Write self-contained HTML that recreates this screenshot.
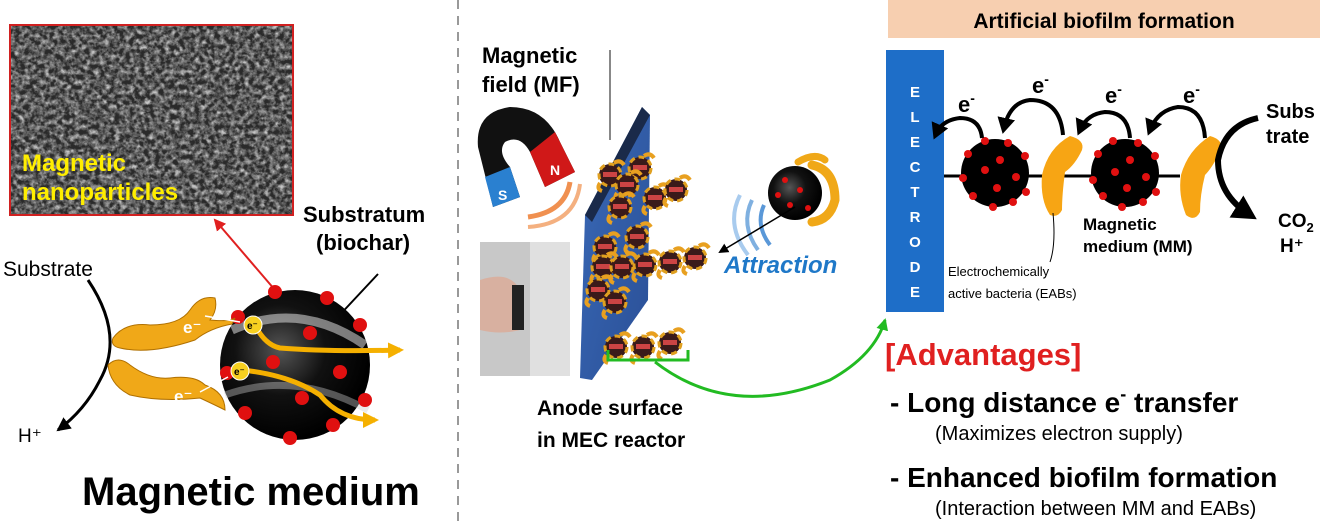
<!DOCTYPE html>
<html><head><meta charset="utf-8"><style>
html,body{margin:0;padding:0;background:#fff;}
svg{display:block;font-family:"Liberation Sans","DejaVu Sans",sans-serif;}
</style></head><body>
<svg width="1328" height="522" viewBox="0 0 1328 522" xmlns="http://www.w3.org/2000/svg">
<defs>
<filter id="noise" x="0" y="0" width="1" height="1"><feTurbulence type="fractalNoise" baseFrequency="0.2" numOctaves="3" seed="4"/><feColorMatrix type="matrix" values="0 0 0 0 0.55  0 0 0 0 0.55  0 0 0 0 0.55  1.1 1.1 1.1 0 -1.35"/></filter>
<clipPath id="semclip"><rect x="10" y="25" width="283" height="190"/></clipPath>
<radialGradient id="sph" cx="0.4" cy="0.4" r="0.6"><stop offset="0" stop-color="#555"/><stop offset="0.5" stop-color="#111"/><stop offset="1" stop-color="#000"/></radialGradient>
<linearGradient id="plate" x1="0" y1="0" x2="1" y2="1"><stop offset="0" stop-color="#3a6ab8"/><stop offset="1" stop-color="#2a4f96"/></linearGradient>
<marker id="ah" markerUnits="userSpaceOnUse" markerWidth="16" markerHeight="16" refX="12" refY="8" orient="auto"><path d="M0,1 L14,8 L0,15z" fill="#000"/></marker>
<marker id="ahs" markerUnits="userSpaceOnUse" markerWidth="10" markerHeight="10" refX="8" refY="5" orient="auto"><path d="M0,0 L10,5 L0,10z" fill="#000"/></marker>
<marker id="ahm" markerUnits="userSpaceOnUse" markerWidth="18" markerHeight="18" refX="10" refY="9" orient="auto"><path d="M0,0 L16,9 L0,18z" fill="#000"/></marker>
<marker id="ahb" markerUnits="userSpaceOnUse" markerWidth="26" markerHeight="26" refX="16" refY="13" orient="auto"><path d="M0,0 L24,13 L0,26z" fill="#000"/></marker>
<marker id="ahr" markerUnits="userSpaceOnUse" markerWidth="14" markerHeight="14" refX="10" refY="7" orient="auto"><path d="M0,1 L12,7 L0,13z" fill="#e02020"/></marker>
<marker id="ahg" markerUnits="userSpaceOnUse" markerWidth="14" markerHeight="14" refX="10" refY="7" orient="auto"><path d="M0,1 L12,7 L0,13z" fill="#22bb22"/></marker>
<marker id="ahy" markerUnits="userSpaceOnUse" markerWidth="18" markerHeight="18" refX="12" refY="9" orient="auto"><path d="M0,1 L16,9 L0,17z" fill="#f5b000"/></marker>
<g id="ball"><circle r="11" fill="#3a1a1a"/><circle r="11" fill="none" stroke="#e0a020" stroke-width="3" stroke-dasharray="6 4"/><rect x="-7" y="-3" width="14" height="5" fill="#c44"/><path d="M4,-12 q6,-4 10,2 M-10,8 q-4,6 2,8" stroke="#e8a020" stroke-width="4" fill="none"/></g>
</defs>

<!-- SEM image -->
<rect x="10" y="25" width="283" height="190" fill="#2a2a2a"/>
<g clip-path="url(#semclip)"><rect x="10" y="25" width="283" height="190" filter="url(#noise)"/></g>
<rect x="10" y="25" width="283" height="190" fill="none" stroke="#d02020" stroke-width="2"/>
<text x="22" y="171" font-size="24" font-weight="bold" fill="#ffee00">Magnetic</text>
<text x="22" y="200" font-size="24" font-weight="bold" fill="#ffee00">nanoparticles</text>
<line x1="275" y1="290" x2="215" y2="220" stroke="#e02020" stroke-width="2" marker-end="url(#ahr)"/>
<text x="303" y="222" font-size="22" font-weight="bold">Substratum</text>
<text x="316" y="250" font-size="22" font-weight="bold">(biochar)</text>
<line x1="378" y1="274" x2="335" y2="320" stroke="#000" stroke-width="2"/>
<text x="3" y="276" font-size="21">Substrate</text>
<path d="M88,280 Q125,335 100,380 Q85,410 58,430" stroke="#000" stroke-width="3" fill="none" marker-end="url(#ah)"/>
<text x="18" y="442" font-size="19">H⁺</text>
<circle cx="295" cy="365" r="75" fill="url(#sph)"/>
<path d="M232,330 Q300,300 365,345" stroke="#ddd" stroke-width="9" fill="none" opacity="0.55"/>
<path d="M225,395 Q295,370 368,410" stroke="#ccc" stroke-width="7" fill="none" opacity="0.4"/>
<g fill="#e01010">
<circle cx="275" cy="292" r="7"/><circle cx="327" cy="298" r="7"/><circle cx="360" cy="325" r="7"/><circle cx="310" cy="333" r="7"/><circle cx="238" cy="317" r="7"/><circle cx="273" cy="362" r="7"/><circle cx="340" cy="372" r="7"/><circle cx="365" cy="400" r="7"/><circle cx="302" cy="398" r="7"/><circle cx="245" cy="413" r="7"/><circle cx="333" cy="425" r="7"/><circle cx="290" cy="438" r="7"/><circle cx="227" cy="373" r="7"/>
</g>
<path d="M255,325 Q265,345 280,348 Q330,352 400,350" stroke="#f5b000" stroke-width="5" fill="none" marker-end="url(#ahy)"/>
<path d="M242,370 Q290,375 320,395 Q340,420 375,420" stroke="#f5b000" stroke-width="5" fill="none" marker-end="url(#ahy)"/>
<circle cx="253" cy="325" r="9" fill="#f7d020" stroke="#fff"/><text x="247" y="329" font-size="10" font-weight="bold">e⁻</text>
<circle cx="240" cy="371" r="9" fill="#f7d020" stroke="#fff"/><text x="234" y="375" font-size="10" font-weight="bold">e⁻</text>
<path d="M113,338 Q125,322 150,325 Q180,325 190,310 Q200,295 215,298 Q218,310 210,320 Q230,322 235,318 L232,324 Q210,328 195,340 Q150,355 120,348 Q110,346 113,338z" fill="#f0a818" stroke="#b07000"/>
<path d="M108,365 Q118,355 130,365 Q150,380 170,378 Q195,375 205,385 Q225,392 225,410 Q215,405 200,398 Q160,402 130,395 Q110,385 108,365z" fill="#f0a818" stroke="#b07000"/>
<text x="183" y="333" font-size="17" font-weight="bold" fill="#fff">e⁻</text>
<text x="174" y="402" font-size="17" font-weight="bold" fill="#fff">e⁻</text>
<line x1="205" y1="316" x2="240" y2="322" stroke="#fff" stroke-width="1.5"/>
<line x1="200" y1="392" x2="228" y2="377" stroke="#fff" stroke-width="1.5"/>
<text x="82" y="505" font-size="40" font-weight="bold">Magnetic medium</text>

<line x1="458" y1="0" x2="458" y2="522" stroke="#999" stroke-width="2" stroke-dasharray="9 7"/>

<text x="482" y="63" font-size="22" font-weight="bold">Magnetic</text>
<text x="482" y="92" font-size="22" font-weight="bold">field (MF)</text>
<line x1="610" y1="50" x2="610" y2="140" stroke="#888" stroke-width="2"/>
<g transform="translate(0,12)">
<path d="M478,135 Q475,100 510,95 Q545,95 560,130 L575,160 L545,175 L530,140 Q520,122 505,130 Q497,140 510,155 L520,185 L493,195 Z" fill="#111"/>
<path d="M545,175 L575,160 L555,120 L530,140z" fill="#d01818"/>
<path d="M493,195 L520,185 L510,155 L485,165z" fill="#2a80d0"/>
<text x="550" y="163" font-size="14" font-weight="bold" fill="#fff">N</text>
<text x="498" y="188" font-size="14" font-weight="bold" fill="#fff">S</text>
<path d="M528,205 Q565,200 570,170" stroke="#f09050" stroke-width="5" fill="none"/>
<path d="M528,215 Q575,212 580,172" stroke="#f4b080" stroke-width="4" fill="none"/>
</g>
<rect x="480" y="242" width="90" height="134" fill="#c8c8c8"/>
<rect x="530" y="242" width="40" height="134" fill="#e0e0e0"/>
<path d="M480,280 Q510,270 520,290 L520,330 Q500,335 480,330z" fill="#d8b0a0"/>
<rect x="512" y="285" width="12" height="45" fill="#222"/>
<path d="M585,215 L642,107 L650,115 L648,300 L592,380 L580,378z" fill="url(#plate)"/>
<path d="M585,215 L642,107 L650,115 L592,222z" fill="#1a2a4a"/>
<g>
<use href="#ball" x="610" y="175"/><use href="#ball" x="640" y="168"/><use href="#ball" x="627" y="185"/><use href="#ball" x="620" y="207"/><use href="#ball" x="655" y="198"/><use href="#ball" x="676" y="190"/><use href="#ball" x="637" y="237"/><use href="#ball" x="605" y="247"/><use href="#ball" x="603" y="267"/><use href="#ball" x="622" y="267"/><use href="#ball" x="645" y="265"/><use href="#ball" x="670" y="262"/><use href="#ball" x="695" y="258"/><use href="#ball" x="598" y="290"/><use href="#ball" x="615" y="302"/><use href="#ball" x="616" y="347"/><use href="#ball" x="643" y="347"/><use href="#ball" x="670" y="343"/>
</g>
<path d="M608,350 L608,360 L688,360 L688,350" stroke="#22bb22" stroke-width="3" fill="none"/>
<path d="M655,362 Q730,420 830,380 Q875,355 885,320" stroke="#22bb22" stroke-width="3" fill="none" marker-end="url(#ahg)"/>
<text x="537" y="415" font-size="21" font-weight="bold">Anode surface</text>
<text x="537" y="447" font-size="21" font-weight="bold">in MEC reactor</text>
<path d="M740,195 Q725,225 748,255" stroke="#a8cbee" stroke-width="4" fill="none"/>
<path d="M752,200 Q740,225 758,250" stroke="#7fb0e0" stroke-width="4" fill="none"/>
<path d="M764,205 Q755,225 770,245" stroke="#5a98d8" stroke-width="4" fill="none"/>
<circle cx="795" cy="193" r="27" fill="url(#sph)"/>
<g fill="#e01010"><circle cx="785" cy="180" r="3"/><circle cx="800" cy="190" r="3"/><circle cx="790" cy="205" r="3"/><circle cx="808" cy="208" r="3"/><circle cx="778" cy="195" r="3"/></g>
<path d="M812,165 Q835,170 835,200 Q830,220 812,222" stroke="#f0a818" stroke-width="9" fill="none" stroke-linecap="round"/>
<path d="M798,162 Q815,152 825,160" stroke="#f0a818" stroke-width="7" fill="none" stroke-linecap="round"/>
<line x1="795" y1="207" x2="720" y2="252" stroke="#000" stroke-width="1.5" marker-end="url(#ahs)"/>
<text x="724" y="273" font-size="24" font-weight="bold" font-style="italic" fill="#1f78c8">Attraction</text>

<rect x="888" y="0" width="432" height="38" fill="#f7cfb0"/>
<text x="1104" y="28" font-size="21" font-weight="bold" text-anchor="middle">Artificial biofilm formation</text>
<rect x="886" y="50" width="58" height="262" fill="#1e6ec8"/>
<g font-size="15" font-weight="bold" fill="#fff" text-anchor="middle">
<text x="915" y="97">E</text><text x="915" y="122">L</text><text x="915" y="147">E</text><text x="915" y="172">C</text><text x="915" y="197">T</text><text x="915" y="222">R</text><text x="915" y="247">O</text><text x="915" y="272">D</text><text x="915" y="297">E</text>
</g>
<line x1="944" y1="176" x2="1180" y2="176" stroke="#000" stroke-width="3"/>
<circle cx="995" cy="173" r="34" fill="#000"/>
<circle cx="1125" cy="173" r="34" fill="#000"/>
<g fill="#e01010">
<circle cx="985" cy="141" r="4"/><circle cx="1008" cy="143" r="4"/><circle cx="968" cy="154" r="4"/><circle cx="1025" cy="156" r="4"/><circle cx="1000" cy="160" r="4"/><circle cx="985" cy="170" r="4"/><circle cx="1016" cy="177" r="4"/><circle cx="963" cy="178" r="4"/><circle cx="997" cy="188" r="4"/><circle cx="1026" cy="192" r="4"/><circle cx="973" cy="196" r="4"/><circle cx="993" cy="207" r="4"/><circle cx="1013" cy="202" r="4"/>
<circle cx="1113" cy="141" r="4"/><circle cx="1138" cy="143" r="4"/><circle cx="1098" cy="154" r="4"/><circle cx="1155" cy="156" r="4"/><circle cx="1130" cy="160" r="4"/><circle cx="1115" cy="172" r="4"/><circle cx="1146" cy="177" r="4"/><circle cx="1093" cy="180" r="4"/><circle cx="1127" cy="188" r="4"/><circle cx="1156" cy="192" r="4"/><circle cx="1103" cy="196" r="4"/><circle cx="1122" cy="207" r="4"/><circle cx="1143" cy="202" r="4"/>
</g>
<path d="M1070,136 Q1085,140 1082,150 Q1075,165 1065,172 Q1062,195 1062,210 Q1058,218 1050,215 Q1040,200 1042,175 Q1048,148 1070,136z" fill="#f7a514"/>
<path d="M1210,136 Q1225,140 1220,152 Q1212,168 1205,175 Q1200,195 1200,212 Q1195,222 1186,215 Q1178,195 1181,175 Q1188,150 1210,136z" fill="#f7a514"/>
<g stroke="#000" stroke-width="4" fill="none">
<path d="M982,138 Q980,118 960,118 Q942,120 936,134" marker-end="url(#ahm)"/>
<path d="M1063,135 Q1060,100 1030,100 Q1010,102 1004,128" marker-end="url(#ahm)"/>
<path d="M1130,138 Q1128,112 1105,112 Q1087,114 1080,130" marker-end="url(#ahm)"/>
<path d="M1205,138 Q1203,107 1178,107 Q1158,110 1150,130" marker-end="url(#ahm)"/>
</g>
<path d="M1258,118 Q1225,125 1218,160 Q1218,195 1250,215" stroke="#000" stroke-width="6" fill="none" marker-end="url(#ahb)"/>
<g font-size="22" font-weight="bold"><text x="958" y="112">e<tspan font-size="14" dy="-9">-</tspan></text><text x="1032" y="93">e<tspan font-size="14" dy="-9">-</tspan></text><text x="1105" y="103">e<tspan font-size="14" dy="-9">-</tspan></text><text x="1183" y="103">e<tspan font-size="14" dy="-9">-</tspan></text></g>
<text x="1266" y="118" font-size="20" font-weight="bold">Subs</text>
<text x="1266" y="143" font-size="20" font-weight="bold">trate</text>
<text x="1278" y="227" font-size="19" font-weight="bold">CO<tspan font-size="13" dy="5">2</tspan></text>
<text x="1280" y="252" font-size="19" font-weight="bold">H⁺</text>
<text x="1083" y="230" font-size="17" font-weight="bold">Magnetic</text>
<text x="1083" y="252" font-size="17" font-weight="bold">medium (MM)</text>
<path d="M1053,213 Q1056,245 1050,262" stroke="#000" stroke-width="1" fill="none"/>
<text x="948" y="276" font-size="13">Electrochemically</text>
<text x="948" y="298" font-size="13">active bacteria (EABs)</text>
<text x="885" y="365" font-size="31" font-weight="bold" fill="#e02020">[Advantages]</text>
<text x="890" y="412" font-size="28" font-weight="bold">- Long distance e<tspan font-size="18" dy="-12">-</tspan><tspan dy="12"> transfer</tspan></text>
<text x="935" y="440" font-size="20">(Maximizes electron supply)</text>
<text x="890" y="487" font-size="28" font-weight="bold">- Enhanced biofilm formation</text>
<text x="935" y="515" font-size="20">(Interaction between MM and EABs)</text>
</svg>
</body></html>
